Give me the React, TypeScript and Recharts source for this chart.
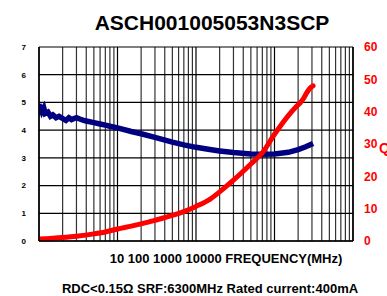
import React from 'react';
import { LineChart, Line, XAxis, YAxis, ReferenceLine } from 'recharts';

// frequency (MHz) / inductance (nH) - blue trace, left axis
const blueFreq = [
  1, 1.03, 1.06, 1.1, 1.15, 1.2, 1.3, 1.4, 1.5, 1.65, 1.8, 2, 2.2, 2.4, 2.6, 2.8, 3, 3.3, 3.7, 4,
  5, 6, 7, 8, 10, 15, 20, 30, 50, 70, 100, 150, 200, 300, 500, 700, 1000, 1500, 2000, 2500, 3100,
];
const blueVals = [
  4.95, 4.55, 4.9, 4.7, 4.8, 4.6, 4.65, 4.5, 4.55, 4.45, 4.5, 4.42, 4.35, 4.45, 4.38, 4.42, 4.45, 4.4, 4.35, 4.33,
  4.27, 4.22, 4.18, 4.14, 4.08, 3.95, 3.87, 3.74, 3.57, 3.47, 3.38, 3.3, 3.25, 3.19, 3.14, 3.13, 3.14, 3.2, 3.3, 3.4, 3.52,
];

// frequency (MHz) / Q - red trace, right axis
const redFreq = [1, 2, 3, 5, 7, 10, 15, 20, 30, 50, 70, 100, 150, 200, 300, 500, 700, 1000, 1500, 1900, 2100, 2300, 2600, 2900, 3100];
const redVals = [0.6, 1.1, 1.5, 2.2, 2.8, 3.7, 4.6, 5.3, 6.4, 7.9, 9.1, 10.7, 12.9, 15.2, 18.8, 23.8, 27.3, 33, 38.8, 41.6, 42.6, 43.8, 46, 47.5, 48];

const leftTicks = [0, 1, 2, 3, 4, 5, 6, 7];
const rightTicks = [0, 10, 20, 30, 40, 50, 60];
const decades = [1, 10, 100, 1000];
const xTicks = [...decades.flatMap((d) => [1, 2, 3, 4, 5, 6, 7, 8, 9].map((m) => m * d)), 10000];

const title = 'ASCH001005053N3SCP';
const xLabel = '10 100 1000 10000 FREQUENCY(MHz)';
const footer = 'RDC<0.15Ω SRF:6300MHz Rated current:400mA';
const qLabel = 'Q';

const blueData = blueFreq.map((f, i) => ({ f, v: blueVals[i] }));
const redData = redFreq.map((f, i) => ({ f, v: redVals[i] }));

const font = 'Liberation Sans, Arial, sans-serif';

export default function App() {
  return (
    <div style={{ position: 'absolute', left: 0, top: 0, width: 387, height: 296, background: '#fff' }}>
      <LineChart width={387} height={296} margin={{ top: 47, right: 0, bottom: 0, left: 0 }}>
        <XAxis
          dataKey="f"
          type="number"
          scale="log"
          domain={[1, 10000]}
          ticks={xTicks}
          allowDataOverflow
          tick={false}
          tickLine={false}
          height={55}
          axisLine={{ stroke: '#000', strokeWidth: 1.5 }}
        />
        <YAxis
          yAxisId="left"
          domain={[0, 7]}
          ticks={leftTicks}
          width={39}
          tickSize={0}
          tickMargin={13}
          axisLine={{ stroke: '#000', strokeWidth: 1.5 }}
          tick={{ fill: '#000', fontSize: 8, fontWeight: 'bold', fontFamily: font }}
        />
        <YAxis
          yAxisId="right"
          orientation="right"
          domain={[0, 60]}
          ticks={rightTicks}
          width={34}
          tickSize={0}
          tickMargin={11}
          axisLine={{ stroke: '#000', strokeWidth: 1.5 }}
          tick={{ fill: '#ff0000', fontSize: 12, fontWeight: 'bold', fontFamily: "'Liberation Sans Narrow', 'Arial Narrow', sans-serif" }}
        />
        {xTicks.map((t) => (
          <ReferenceLine
            key={`x${t}`}
            x={t}
            yAxisId="left"
            stroke={decades.includes(t) || t === 10000 ? '#000' : '#333'}
            strokeWidth={1.2}
          />
        ))}
        {leftTicks.map((t) => (
          <ReferenceLine key={`y${t}`} y={t} yAxisId="left" stroke="#000" strokeWidth={1.2} />
        ))}
        <Line
          yAxisId="left"
          data={blueData}
          dataKey="v"
          type="linear"
          stroke="#000080"
          strokeWidth={5.5}
          dot={false}
          isAnimationActive={false}
        />
        <Line
          yAxisId="right"
          data={redData}
          dataKey="v"
          type="monotone"
          stroke="#ff0000"
          strokeWidth={5}
          strokeLinecap="round"
          dot={false}
          isAnimationActive={false}
        />
      </LineChart>
      <svg width={387} height={296} style={{ position: 'absolute', left: 0, top: 0, pointerEvents: 'none' }}>
        <text x={212} y={30} textAnchor="middle" fontFamily={font} fontWeight="bold" fontSize={21} fill="#000">
          {title}
        </text>
        <text x={226} y={263} textAnchor="middle" fontFamily={font} fontWeight="bold" fontSize={13} fill="#000">
          {xLabel}
        </text>
        <text x={210} y={293} textAnchor="middle" fontFamily={font} fontWeight="bold" fontSize={13} fill="#000">
          {footer}
        </text>
        <text x={379} y={153} fontFamily={font} fontWeight="bold" fontSize={14} fill="#ff0000">
          {qLabel}
        </text>
      </svg>
    </div>
  );
}
